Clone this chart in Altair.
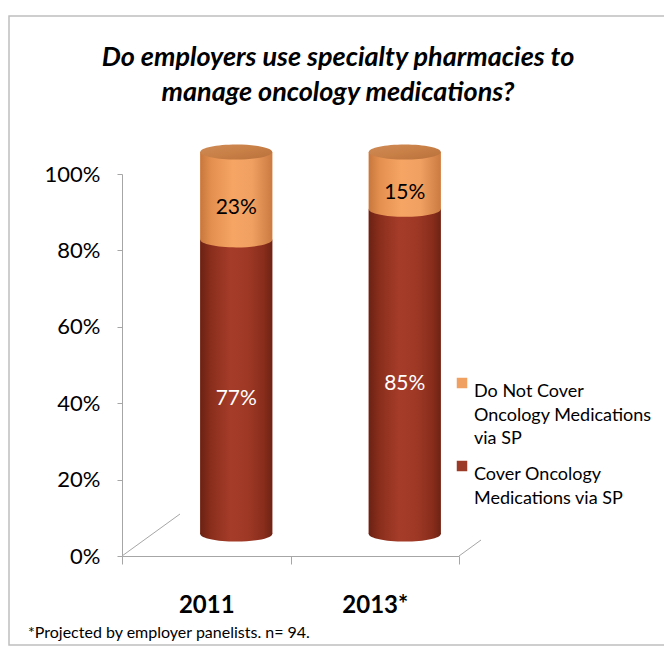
import altair as alt
import pandas as pd

# ---- data ----
years = ["2011", "2013*"]
cover_vals = [77, 85]          # Cover Oncology Medications via SP
not_cover_vals = [23, 15]      # Do Not Cover Oncology Medications via SP
series_names = ["Do Not Cover Oncology Medications via SP",
                "Cover Oncology Medications via SP"]
legend_lines = {
    series_names[0]: ["Do Not Cover", "Oncology Medications", "via SP"],
    series_names[1]: ["Cover Oncology", "Medications via SP"],
}
y_ticks = [0, 20, 40, 60, 80, 100]
title_lines = ["Do employers use specialty pharmacies to",
               "manage oncology medications?"]
footnote = "*Projected by employer panelists. n= 94."

# ---- build table (stacked start/end) ----
rows = []
for yr, c, n in zip(years, cover_vals, not_cover_vals):
    rows.append({"year": yr, "series": series_names[1], "value": c, "start": 0, "end": c})
    rows.append({"year": yr, "series": series_names[0], "value": n, "start": c, "end": c + n})
df = pd.DataFrame(rows)
df["label"] = df["value"].astype(str) + "%"

W, H = 337, 382
FONT = "Lato"
XOFF, YOFF = 30, -22
BAR_W = 72
ELL = "M-1,0 A1,0.21 0 1,1 1,0 A1,0.21 0 1,1 -1,0 Z"

red_grad = alt.LinearGradient(gradient="linear", x1=0, x2=1, y1=0, y2=0, stops=[
    alt.GradientStop(offset=0, color="#6a2213"),
    alt.GradientStop(offset=0.15, color="#8a2e1c"),
    alt.GradientStop(offset=0.42, color="#a53c29"),
    alt.GradientStop(offset=0.65, color="#9f3926"),
    alt.GradientStop(offset=0.88, color="#892d1c"),
    alt.GradientStop(offset=1, color="#6d2314"),
])
org_grad = alt.LinearGradient(gradient="linear", x1=0, x2=1, y1=0, y2=0, stops=[
    alt.GradientStop(offset=0, color="#c8773d"),
    alt.GradientStop(offset=0.15, color="#e38f4f"),
    alt.GradientStop(offset=0.45, color="#f6a565"),
    alt.GradientStop(offset=0.72, color="#f0a061"),
    alt.GradientStop(offset=1, color="#cb7b41"),
])
top_grad = alt.LinearGradient(gradient="linear", x1=0, x2=1, y1=0, y2=1, stops=[
    alt.GradientStop(offset=0, color="#d08a55"),
    alt.GradientStop(offset=0.5, color="#c88047"),
    alt.GradientStop(offset=1, color="#b9703b"),
])

base = alt.Chart(df)

x_enc = alt.X("year:N", sort=years, title=None,
              scale=alt.Scale(domain=years, paddingInner=0, paddingOuter=0),
              axis=alt.Axis(labelFont=FONT, labelFontSize=24, labelFontWeight="bold",
                            labelColor="black", labelAngle=0, labelPadding=29,
                            tickBand="extent", tickSize=8, tickColor="#a6a6a6",
                            domainColor="#a6a6a6", labelBaseline="top", zindex=1))
y_enc = alt.Y("start:Q", title=None,
              scale=alt.Scale(domain=[0, 100], nice=False),
              axis=alt.Axis(values=y_ticks, labelExpr="datum.value + '%'",
                            labelFont=FONT, labelFontSize=22, labelColor="black",
                            labelPadding=17, tickSize=5, tickColor="#a6a6a6",
                            domainColor="#a6a6a6", grid=False, zindex=1))

# legend-bearing plain bars (covered by shaded cylinders)
legend_bars = base.mark_bar(width=BAR_W, xOffset=XOFF, yOffset=YOFF, y2Offset=YOFF).encode(
    x=x_enc, y=y_enc, y2="end:Q",
    color=alt.Color("series:N",
                    scale=alt.Scale(domain=series_names, range=["#f0a060", "#9c3a28"]),
                    legend=alt.Legend(title=None, orient="none", legendX=331, legendY=200,
                                      symbolType="square", symbolSize=110,
                                      symbolStrokeWidth=0, labelFont=FONT,
                                      labelFontSize=18, labelColor="black",
                                      labelLimit=300, rowPadding=9, labelOffset=3,
                                      labelExpr=f"datum.label == '{series_names[0]}' ? "
                                                f"{legend_lines[series_names[0]]} : "
                                                f"{legend_lines[series_names[1]]}",
                                      labelBaseline="top", symbolOffset=0)),
)

red = base.transform_filter(alt.datum.series == series_names[1])
org = base.transform_filter(alt.datum.series == series_names[0])

red_body = red.mark_bar(width=BAR_W, xOffset=XOFF, yOffset=YOFF, y2Offset=YOFF,
                        color=red_grad).encode(x="year:N", y="start:Q", y2="end:Q")
red_bottom = red.mark_point(shape=ELL, size=BAR_W ** 2, filled=True, opacity=1,
                            strokeWidth=0, xOffset=XOFF, yOffset=YOFF,
                            color=red_grad).encode(x="year:N", y="start:Q")
org_body = org.mark_bar(width=BAR_W, xOffset=XOFF, yOffset=YOFF, y2Offset=YOFF,
                        color=org_grad).encode(x="year:N", y="start:Q", y2="end:Q")
org_split = org.mark_point(shape=ELL, size=BAR_W ** 2, filled=True, opacity=1,
                           strokeWidth=0, xOffset=XOFF, yOffset=YOFF,
                           color=org_grad).encode(x="year:N", y="start:Q")
org_top = org.mark_point(shape=ELL, size=BAR_W ** 2, filled=True, opacity=1,
                         strokeWidth=0, xOffset=XOFF, yOffset=YOFF,
                         color=top_grad).encode(x="year:N", y="end:Q")

labels = base.transform_calculate(mid="(datum.start + datum.end) / 2").mark_text(
    font=FONT, fontSize=21, xOffset=XOFF, yOffset=YOFF + 12
).encode(
    x="year:N", y="mid:Q", text="label:N",
    color=alt.condition(alt.datum.series == series_names[1],
                        alt.value("white"), alt.value("black")),
)

# decorative frame, 3-D floor edges, title, footnote
deco = alt.Chart(pd.DataFrame({"k": [0]}))
frame = deco.mark_rect(fill="transparent", stroke="#bfbfbf", strokeWidth=1.5, clip=False).encode(
    x=alt.value(-113), x2=alt.value(545), y=alt.value(-158), y2=alt.value(471))
floor_l = deco.mark_rule(color="#a6a6a6", strokeWidth=1).encode(
    x=alt.value(0), y=alt.value(H), x2=alt.value(58), y2=alt.value(H - 42))
floor_r = deco.mark_rule(color="#a6a6a6", strokeWidth=1).encode(
    x=alt.value(W), y=alt.value(H), x2=alt.value(W + 22), y2=alt.value(H - 16))
title = deco.mark_text(text=title_lines, font=FONT, fontSize=27, fontStyle="italic",
                       fontWeight="bold", color="black", align="center",
                       baseline="middle", lineHeight=35).encode(
    x=alt.value(216), y=alt.value(-116))
foot = deco.mark_text(text=footnote, font=FONT, fontSize=16, align="left",
                      baseline="alphabetic", color="black").encode(
    x=alt.value(-94), y=alt.value(464))

chart = alt.layer(
    frame, floor_l, floor_r, legend_bars, red_body, red_bottom, org_body,
    org_split, org_top, labels, title, foot
).properties(
    width=W, height=H,
    background="white",
    autosize=alt.AutoSizeParams(type="none"),
    padding={"left": 114, "top": 166, "right": 205, "bottom": 90},
).configure(
    view=alt.ViewConfig(stroke="transparent"),
    style={"guide-label": {"lineHeight": 23.5}},
)

chart.save("out.html", embed_options={"renderer": "svg", "actions": False})
